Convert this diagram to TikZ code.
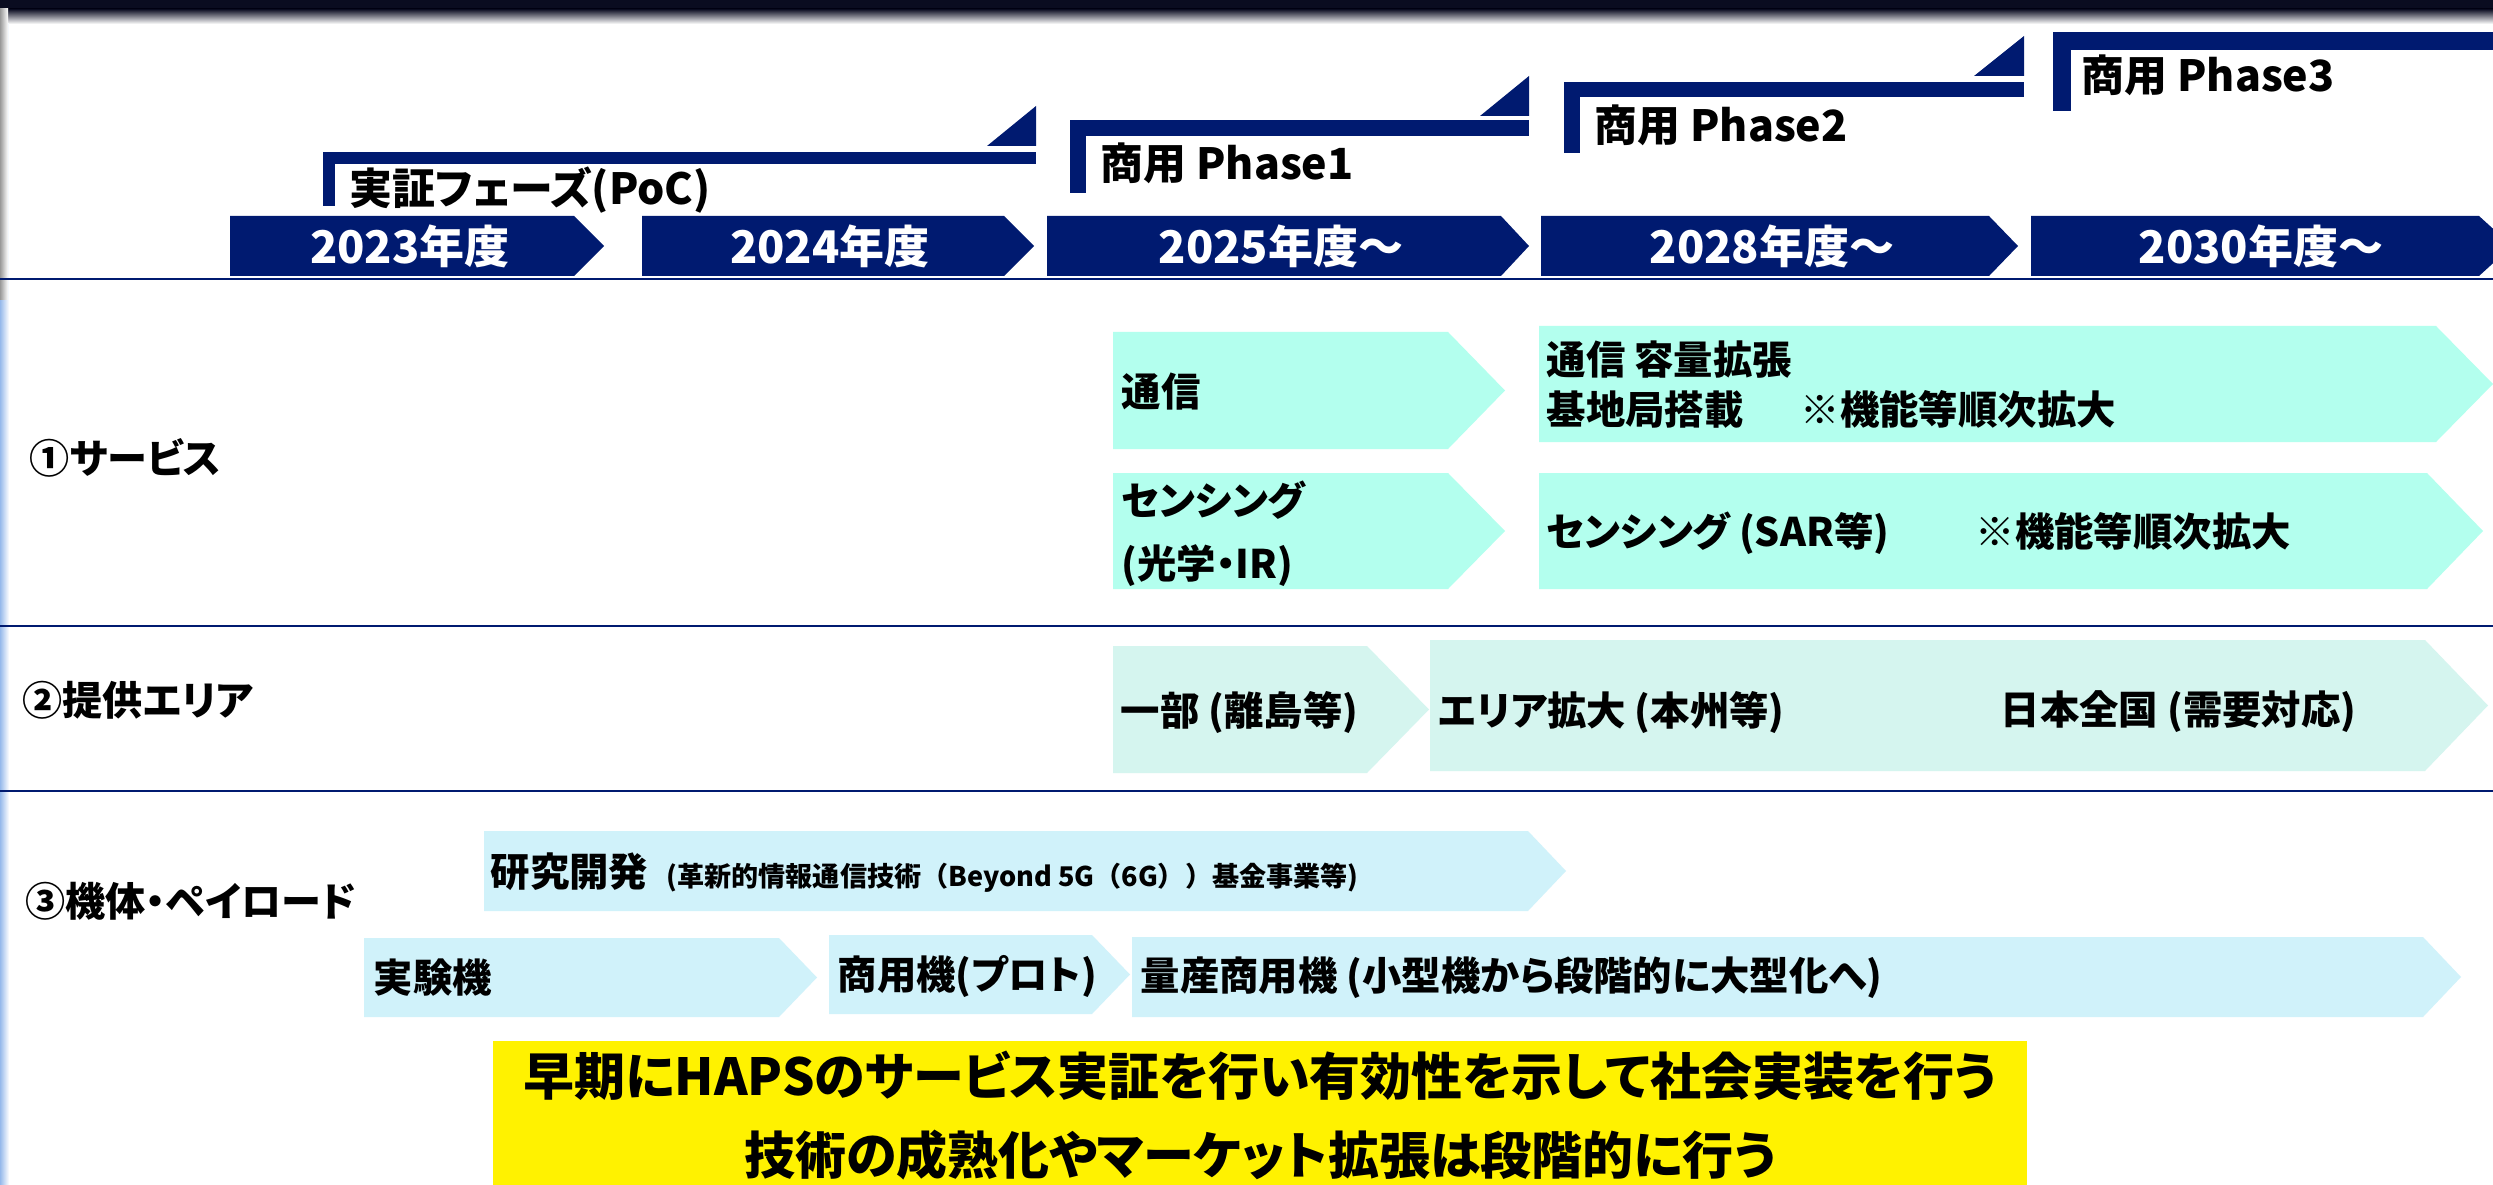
\documentclass[tikz,border=0pt]{standalone}
\usepackage{fontspec}
\setmainfont{Noto Sans CJK JP}[RawFeature=+palt]
\newfontfamily\jpfw{Noto Sans CJK JP}
\definecolor{navy}{RGB}{0,26,112}
\definecolor{svc}{RGB}{179,255,238}
\definecolor{area}{RGB}{213,245,239}
\definecolor{pay}{RGB}{208,242,250}
\definecolor{topdark}{RGB}{10,12,32}
\definecolor{edgeblue}{RGB}{150,185,235}
\newcommand\mychev[6]{%
  \fill[#6] (#1,#2) -- (#5,#2) -- (#3,{(#2+#4)/2}) -- (#5,#4) -- (#1,#4) -- cycle;}
\tikzset{
  yr/.style={text=white, inner sep=0pt, font=\fontsize{12.8pt}{14pt}\selectfont\bfseries},
  phlabel/.style={anchor=west, inner sep=0pt, font=\fontsize{12.2pt}{14pt}\selectfont\bfseries},
  seclabel/.style={anchor=west, inner sep=0pt, font=\fontsize{11.4pt}{13pt}\selectfont\bfseries},
  ctext/.style={anchor=west, inner sep=0pt, font=\fontsize{11.2pt}{13pt}\selectfont\bfseries},
  basetext/.style={anchor=base west, inner sep=0pt, font=\fontsize{11.2pt}{13pt}\selectfont\bfseries},
  smalltext/.style={anchor=base west, inner sep=0pt, font=\jpfw\fontsize{7.7pt}{9pt}\selectfont\bfseries},
  bigtext/.style={inner sep=0pt, font=\fontsize{14.5pt}{16pt}\selectfont\bfseries},
  sepline/.style={draw=navy, line width=0.85pt}
}
\begin{document}
\begin{tikzpicture}[x=0.01cm, y=-0.01cm]
\useasboundingbox (0,0) rectangle (2493,1185);
\fill[white] (0,0) rectangle (2493,1185);
% top dark band and left edge
\fill[topdark] (0,0) rectangle (2493,9);
\shade[top color=topdark, bottom color=white] (0,9) rectangle (2493,24);
\shade[left color=edgeblue, right color=white] (0,24) rectangle (9,1185);
\shade[left color=gray!80, right color=white] (0,9) rectangle (8,300);

% year chevrons
\mychev{230}{216}{604}{276}{574}{navy}
\mychev{642}{216}{1034}{276}{1004}{navy}
\mychev{1047}{216}{1529}{276}{1501}{navy}
\mychev{1541}{216}{2018}{276}{1989}{navy}
\mychev{2031}{216}{2512}{276}{2479}{navy}
\node[yr] (y2023) at (410,246) {2023年度};
\node[yr] (y2024) at (830,246) {2024年度};
\node[yr] (y2025) at (1281,246) {2025年度〜};
\node[yr] (y2028) at (1772,246) {2028年度〜};
\node[yr] (y2030) at (2261,246) {2030年度〜};

% phase brackets
\fill[navy] (323,152) rectangle (335,206);
\fill[navy] (323,152) rectangle (1036,164);
\fill[navy] (987,146) -- (1036,146) -- (1036,106) -- cycle;
\fill[navy] (1070,120) rectangle (1086,193);
\fill[navy] (1070,120) rectangle (1529,136);
\fill[navy] (1480,116) -- (1529,116) -- (1529,76) -- cycle;
\fill[navy] (1564,82) rectangle (1580,153);
\fill[navy] (1564,82) rectangle (2024,97);
\fill[navy] (1974,76) -- (2024,76) -- (2024,36) -- cycle;
\fill[navy] (2053,32) rectangle (2071,111);
\fill[navy] (2053,32) rectangle (2493,50);
\node[phlabel] (poc) at (349,190) {実証フェーズ(PoC)};
\node[phlabel] (ph1) at (1100,163) {商用 Phase1};
\node[phlabel] (ph2) at (1594,125) {商用 Phase2};
\node[phlabel] (ph3) at (2081,75) {商用 Phase3};

% separator lines
\coordinate (l1a) at (0,279); \coordinate (l1b) at (2493,279);
\coordinate (l2a) at (0,626); \coordinate (l2b) at (2493,626);
\coordinate (l3a) at (0,791); \coordinate (l3b) at (2493,791);
\draw[sepline] (l1a) -- (l1b);
\draw[sepline] (l2a) -- (l2b);
\draw[sepline] (l3a) -- (l3b);

% section labels
\node[seclabel] (sec1) at (29,458) {①サービス};
\node[seclabel] (sec2) at (22,700) {②提供エリア};
\node[seclabel] (sec3) at (25,901) {③機体・ペイロード};

% service chevrons
\mychev{1113}{332}{1505}{449}{1448}{svc}
\mychev{1539}{326}{2493}{442}{2436}{svc}
\mychev{1113}{473}{1505}{589}{1448}{svc}
\mychev{1539}{473}{2483}{589}{2427}{svc}
\node[ctext] (tsushin) at (1121,392) {通信};
\node[ctext] (tsushin2) at (1546,360) {通信 容量拡張};
\node[ctext] (kichi) at (1546,409) {基地局搭載\hspace{1.45em}※機能等順次拡大};
\node[ctext] (sens1) at (1121,500) {センシング};
\node[ctext] (sens1b) at (1121,566) {(光学・IR)};
\node[ctext] (sens2) at (1546,533) {センシング (SAR等)\hspace{2.2em}※機能等順次拡大};

% area chevrons
\mychev{1113}{646}{1429}{773}{1367}{area}
\mychev{1430}{640}{2488}{771}{2425}{area}
\node[ctext] (ichibu) at (1120,712) {一部 (離島等)};
\node[ctext] (honshu) at (1438,712) {エリア拡大 (本州等)};
\node[ctext] (zenkoku) at (2000,712) {日本全国 (需要対応)};

% payload chevrons
\mychev{484}{831}{1566}{911}{1528}{pay}
\mychev{364}{938}{817}{1017}{779}{pay}
\mychev{829}{935}{1130}{1014}{1092}{pay}
\mychev{1132}{937}{2461}{1017}{2423}{pay}
\node[basetext] (kenkyu) at (490,886) {研究開発};
\node[smalltext] (kenkyu2) at (666,886) {(革新的情報通信技術（Beyond 5G（6G））基金事業等)};
\node[ctext] (jikken) at (373,978) {実験機};
\node[ctext] (proto) at (837,976) {商用機(プロト)};
\node[ctext] (ryosan) at (1140,978) {量産商用機 (小型機から段階的に大型化へ)};

% yellow message box
\fill[yellow] (493,1041) rectangle (2027,1185);
\node[bigtext] (msg1) at (1260,1076) {早期にHAPSのサービス実証を行い有効性を示して社会実装を行う};
\node[bigtext] (msg2) at (1260,1155) {技術の成熟化やマーケット拡張は段階的に行う};
\end{tikzpicture}
\end{document}
